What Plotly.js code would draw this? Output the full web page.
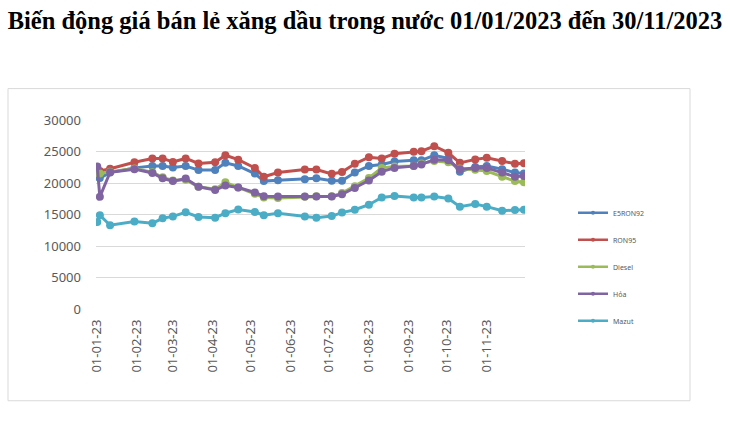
<!DOCTYPE html>
<html><head><meta charset="utf-8">
<script src="https://cdn.plot.ly/plotly-3.0.1.min.js"></script>
<style>html,body{margin:0;padding:0;background:#fff}</style>
</head><body><div id="chart" style="width:730px;height:422px"></div>
<script>
const dates = ["2023-01-01","2023-01-03","2023-01-11","2023-01-30","2023-02-13","2023-02-21","2023-03-01","2023-03-11","2023-03-21","2023-04-03","2023-04-11","2023-04-21","2023-05-04","2023-05-11","2023-05-22","2023-06-12","2023-06-21","2023-07-03","2023-07-11","2023-07-21","2023-08-01","2023-08-11","2023-08-21","2023-09-05","2023-09-11","2023-09-21","2023-10-02","2023-10-11","2023-10-23","2023-11-01","2023-11-13","2023-11-23","2023-11-30"];
const seriesNames = ["E5RON92","RON95","Diesel","Hỏa","Mazut"];
const e5ron92 = [21000,20800,21650,22400,22700,22700,22450,22700,22050,22050,23200,22700,21500,20300,20450,20600,20750,20350,20350,21650,22700,22950,23400,23600,23600,24400,23900,21800,22550,22700,22200,21650,21500];
const ron95 = [22200,21900,22250,23300,23900,23900,23350,23900,23100,23300,24400,23700,22400,21000,21650,22150,22150,21450,21750,23050,24100,23900,24650,24950,25050,25850,24800,23200,23750,24000,23500,23050,23150];
const diesel = [21600,21500,21800,22300,21700,20900,20400,20500,19400,19000,20100,19300,18300,17700,17600,17800,17900,17900,18400,19500,20800,22400,22600,22700,23100,23500,23300,22300,22100,21900,21000,20300,20100];
const hoa = [22600,17800,21700,22200,21600,20750,20300,20700,19400,18900,19600,19300,18500,17900,17850,17870,17870,17870,18200,19200,20400,21800,22400,22700,22950,23700,23600,22200,22400,22400,21650,21000,21100];
const mazut = [13800,14900,13300,13900,13600,14400,14700,15350,14600,14500,15200,15800,15400,14900,15200,14700,14500,14750,15300,15750,16550,17700,17950,17700,17700,17850,17550,16250,16650,16250,15600,15700,15750];
const yTicks = [0,5000,10000,15000,20000,25000,30000];
const titleText = "Biến động giá bán lẻ xăng dầu trong nước 01/01/2023 đến 30/11/2023";

const colors = ["#4F81BD","#C0504D","#9BBB59","#8064A2","#4BACC6"];
const values = [e5ron92, ron95, diesel, hoa, mazut];
const traces = values.map((v,i)=>({
  x: dates, y: v, name: seriesNames[i], type:'scatter', mode:'lines+markers',
  showlegend:false,
  line:{color:colors[i], width:3},
  marker:{color:colors[i], size:8}
}));
// legend entries with the smaller symbols used in the reference legend
values.forEach((v,i)=>traces.push({
  x:[null], y:[null], name: seriesNames[i], type:'scatter', mode:'lines+markers',
  legendgroup:'g'+i, showlegend:true,
  line:{color:colors[i], width:2.5}, marker:{color:colors[i], size:4}
}));

const L=96, R=525, T=119.5, B=309, W=730, H=422;
const pw=R-L, ph=B-T;
const px=(x)=>(x-L)/pw, py=(y)=>(B-y)/ph;

const layout = {
  width:W, height:H,
  margin:{l:L, r:W-R, t:T, b:H-B, pad:0},
  paper_bgcolor:'#fff', plot_bgcolor:'#fff',
  font:{family:'Noto Sans, Open Sans, sans-serif', color:'#595959', size:13},
  title:{text:'<b>'+titleText+'</b>', font:{family:'Liberation Serif, Times New Roman, serif', size:24.5, color:'#000'},
    xref:'container', yref:'container', x:0.5, xanchor:'center', y:1-20/H, yanchor:'middle'},
  xaxis:{type:'date', range:['2022-12-31','2023-11-30 20:00'], dtick:'M1', tick0:'2023-01-01',
    tickformat:'%d-%m-%y', tickangle:-90, showgrid:false, zeroline:false, showline:false,
    ticks:'', ticklabelstandoff:7, tickfont:{size:13, color:'#595959'}},
  yaxis:{range:[0,30000], tickvals:yTicks, ticktext:yTicks.map(String), showgrid:true, gridcolor:'#d9d9d9', gridwidth:1,
    zeroline:false, showline:false, ticks:'', ticklabelstandoff:14, tickfont:{size:13, color:'#595959'}},
  showlegend:true,
  legend:{x:px(573), y:py(198), xanchor:'left', yanchor:'top', traceorder:'grouped', tracegroupgap:8,
    font:{size:7, color:'#595959'}, bgcolor:'rgba(0,0,0,0)', borderwidth:0},
  shapes:[{type:'rect', xref:'paper', yref:'paper', x0:px(8), x1:px(690), y0:py(401), y1:py(88),
    line:{color:'#d9d9d9', width:1}, fillcolor:'rgba(0,0,0,0)', layer:'below'}]
};
Plotly.newPlot('chart', traces, layout, {displayModeBar:false, staticPlot:true});
</script></body></html>
